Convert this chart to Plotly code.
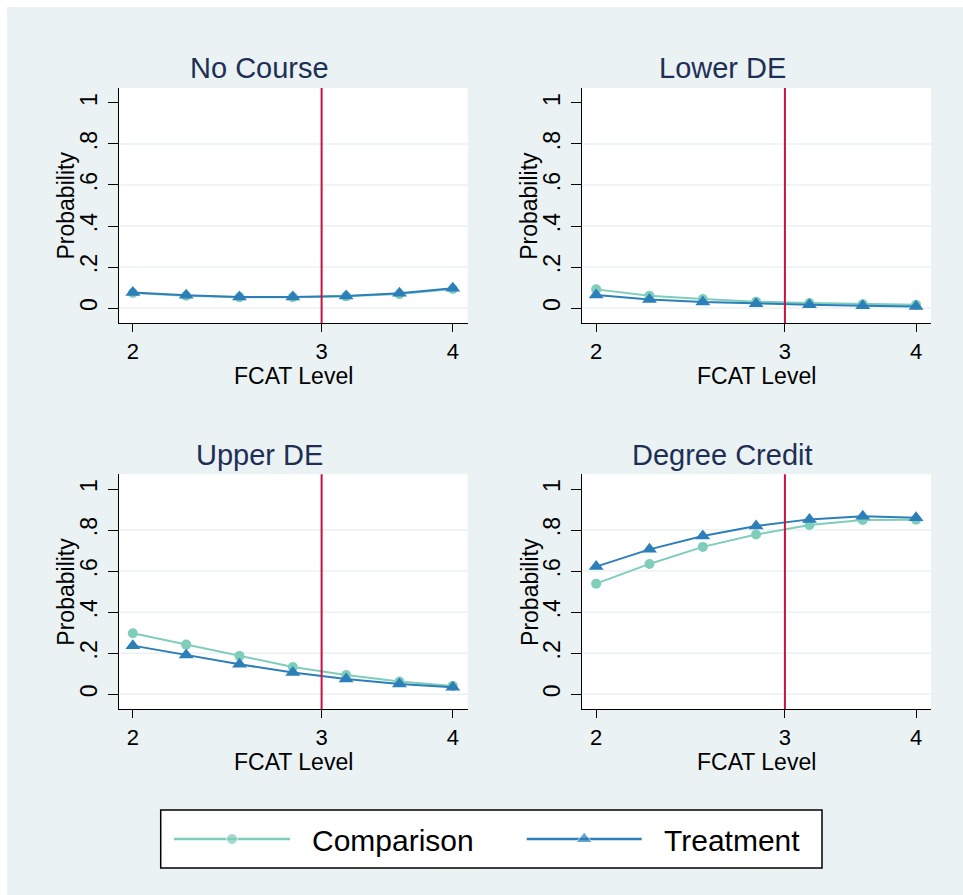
import plotly.graph_objects as go

# Predicted probabilities across the FCAT range (7 evaluation points)
grid_pts = [1, 2, 3, 4, 5, 6, 7]
level_pos = [1, 4.54, 7]
level_text = ["2", "3", "4"]
cutoff = 4.54

panel_titles = ["No Course", "Lower DE", "Upper DE", "Degree Credit"]

comparison_no_course = [0.073, 0.060, 0.053, 0.053, 0.057, 0.068, 0.093]
treatment_no_course = [0.076, 0.062, 0.054, 0.054, 0.059, 0.072, 0.097]

comparison_lower_de = [0.091, 0.060, 0.044, 0.031, 0.024, 0.019, 0.016]
treatment_lower_de = [0.063, 0.042, 0.029, 0.021, 0.016, 0.011, 0.008]

comparison_upper_de = [0.297, 0.242, 0.187, 0.133, 0.094, 0.062, 0.041]
treatment_upper_de = [0.237, 0.192, 0.146, 0.106, 0.075, 0.050, 0.034]

comparison_degree = [0.539, 0.635, 0.718, 0.778, 0.825, 0.849, 0.850]
treatment_degree = [0.622, 0.706, 0.771, 0.820, 0.852, 0.867, 0.860]

prob_ticks = [0, 0.2, 0.4, 0.6, 0.8, 1]
prob_labels = ["0", ".2", ".4", ".6", ".8", "1"]
grid_vals = [0, 0.2, 0.4, 0.6, 0.8]

series_names = ["Comparison", "Treatment"]

W, H = 963, 895
FONT = "Liberation Sans, Arial, sans-serif"
BG = "#eaf2f3"
C_COMP = "#7fcdbb"
C_TREAT = "#2c7fb8"
C_CUT = "#cc1040"
TITLE_COLOR = "#1e2f56"


def px_x(p):
    return p / W


def px_y(p):
    return 1 - p / H


# pixel boxes of the four panels: (left, right, top, bottom)
boxes = [
    (119, 467.7, 88, 323),
    (582.3, 931, 88, 323),
    (119, 467.7, 474.3, 709),
    (582.3, 931, 474.3, 709),
]
title_pos = [(259, 67.7), (722.5, 67.7), (259, 454.5), (722.5, 454.5)]
yranges = [(-0.073, 1.073), (-0.073, 1.073), (-0.0716, 1.0716), (-0.0716, 1.0716)]
xrange_ = (0.74, 7.28)

panel_data = [
    (comparison_no_course, treatment_no_course),
    (comparison_lower_de, treatment_lower_de),
    (comparison_upper_de, treatment_upper_de),
    (comparison_degree, treatment_degree),
]

fig = go.Figure()
layout = dict(
    width=W,
    height=H,
    margin=dict(l=0, r=0, t=0, b=0),
    paper_bgcolor=BG,
    plot_bgcolor="white",
    showlegend=False,
    font=dict(family=FONT, color="black"),
)
shapes = []
annotations = []

# white strip along the top and left edges
shapes.append(dict(type="rect", xref="paper", yref="paper", x0=0, x1=1,
                   y0=px_y(7), y1=1, fillcolor="white", line=dict(width=0), layer="below"))
shapes.append(dict(type="rect", xref="paper", yref="paper", x0=0, x1=px_x(7),
                   y0=0, y1=1, fillcolor="white", line=dict(width=0), layer="below"))

for i, (box, yr, (comp, treat), title, tpos) in enumerate(
        zip(boxes, yranges, panel_data, panel_titles, title_pos)):
    n = i + 1
    xa = "x" if n == 1 else f"x{n}"
    ya = "y" if n == 1 else f"y{n}"
    left, right, top, bottom = box

    fig.add_trace(go.Scatter(
        x=grid_pts, y=comp, mode="lines+markers", name=series_names[0],
        xaxis=xa, yaxis=ya, line=dict(color=C_COMP, width=2),
        marker=dict(symbol="circle", size=10, color=C_COMP),
    ))
    fig.add_trace(go.Scatter(
        x=grid_pts, y=treat, mode="lines+markers", name=series_names[1],
        xaxis=xa, yaxis=ya, line=dict(color=C_TREAT, width=2),
        marker=dict(symbol="triangle-up", size=13, color=C_TREAT),
    ))

    xkey = "xaxis" if n == 1 else f"xaxis{n}"
    ykey = "yaxis" if n == 1 else f"yaxis{n}"
    layout[xkey] = dict(
        domain=[px_x(left), px_x(right)], anchor=ya, range=list(xrange_),
        tickmode="array", tickvals=level_pos, ticktext=level_text,
        ticks="outside", ticklen=8, tickwidth=1.3, tickcolor="black",
        showline=True, linecolor="black", linewidth=1.3,
        showgrid=False, zeroline=False, automargin=False,
        tickfont=dict(size=22, family=FONT, color="black"),
    )
    layout[ykey] = dict(
        domain=[px_y(bottom), px_y(top)], anchor=xa, range=list(yr),
        tickmode="array", tickvals=prob_ticks, ticktext=prob_labels, tickangle=-90,
        ticks="outside", ticklen=10, tickwidth=1.3, tickcolor="black",
        showline=True, linecolor="black", linewidth=1.3,
        showgrid=False, zeroline=False, automargin=False, ticklabelstandoff=2,
        tickfont=dict(size=23, family=FONT, color="black"),
    )

    # horizontal grid lines
    for g in grid_vals:
        shapes.append(dict(type="line", xref=f"{xa} domain", yref=ya, x0=0, x1=1,
                           y0=g, y1=g, line=dict(color=BG, width=1.5), layer="below"))
    # cutoff at FCAT level 3
    shapes.append(dict(type="line", xref=xa, yref=f"{ya} domain", x0=cutoff, x1=cutoff,
                       y0=0, y1=1, line=dict(color=C_CUT, width=2)))

    # panel title
    annotations.append(dict(text=title, xref="paper", yref="paper",
                            x=px_x(tpos[0]), y=px_y(tpos[1]),
                            xanchor="center", yanchor="middle", showarrow=False,
                            font=dict(size=29, family=FONT, color=TITLE_COLOR)))
    # axis titles
    annotations.append(dict(text="FCAT Level", xref="paper", yref="paper",
                            x=px_x((left + right) / 2), y=px_y(bottom + 53),
                            xanchor="center", yanchor="middle", showarrow=False,
                            font=dict(size=23, family=FONT, color="black")))
    annotations.append(dict(text="Probability", xref="paper", yref="paper",
                            x=px_x(left - 53), y=px_y((top + bottom) / 2), textangle=-90,
                            xanchor="center", yanchor="middle", showarrow=False,
                            font=dict(size=23, family=FONT, color="black")))

# legend box with key samples drawn on a hidden pixel-scaled axis
leg_l, leg_r, leg_t, leg_b = 160.7, 822, 810, 868
shapes.append(dict(type="rect", xref="paper", yref="paper",
                   x0=px_x(leg_l), x1=px_x(leg_r), y0=px_y(leg_b), y1=px_y(leg_t),
                   fillcolor="white", line=dict(color="black", width=1.5), layer="below"))
layout["xaxis5"] = dict(domain=[px_x(leg_l), px_x(leg_r)], range=[leg_l, leg_r],
                        visible=False, anchor="y5", fixedrange=True)
layout["yaxis5"] = dict(domain=[px_y(leg_b), px_y(leg_t)], range=[leg_b, leg_t],
                        visible=False, anchor="x5", fixedrange=True)

key_specs = [
    (series_names[0], C_COMP, "circle", 11, 174, 290, 310),
    (series_names[1], C_TREAT, "triangle-up", 14, 526.7, 641.7, 661.7),
]
for name, color, sym, size, x0, x1, tx in key_specs:
    fig.add_trace(go.Scatter(
        x=[x0, (x0 + x1) / 2, x1], y=[839, 839, 839], mode="lines+markers",
        xaxis="x5", yaxis="y5", line=dict(color=color, width=2.5),
        marker=dict(symbol=sym, size=[0, size, 0], color=color),
        hoverinfo="skip",
    ))
    annotations.append(dict(text=name, xref="paper", yref="paper",
                            x=px_x(tx), y=px_y(840), xanchor="left", yanchor="middle",
                            showarrow=False, font=dict(size=30, family=FONT, color="black")))

layout["shapes"] = shapes
layout["annotations"] = annotations
fig.update_layout(**layout)
fig.write_html("out.html")
